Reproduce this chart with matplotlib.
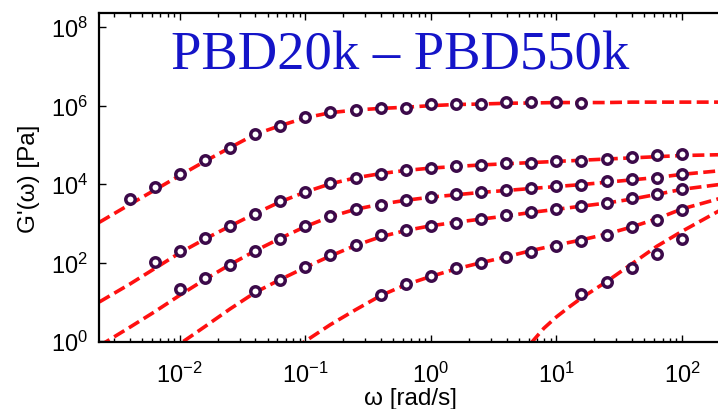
import matplotlib
matplotlib.use("Agg")
import matplotlib.pyplot as plt
from matplotlib.ticker import LogLocator, FixedLocator, LogFormatterSciNotation, NullFormatter, NullLocator

plt.rcParams['font.family'] = ['Liberation Sans', 'DejaVu Sans']
plt.rcParams['mathtext.fontset'] = 'custom'
plt.rcParams['mathtext.rm'] = 'Liberation Sans'
plt.rcParams['mathtext.it'] = 'Liberation Sans:italic'
plt.rcParams['mathtext.bf'] = 'Liberation Sans:bold'
plt.rcParams['axes.unicode_minus'] = False

# ---------------- data ----------------
title_text = "PBD20k \u2013 PBD550k"
x_label = "\u03c9 [rad/s]"
y_label = "G'(\u03c9) [Pa]"
y_ticks = [1, 1e2, 1e4, 1e6, 1e8]

# measured points
w1 = [0.00398, 0.00631, 0.01, 0.0158, 0.0251, 0.0398, 0.0631, 0.1, 0.158, 0.251,
      0.398, 0.631, 1.0, 1.58, 2.51, 3.98, 6.31, 10.0, 15.8]
g1 = [4170, 8710, 17800, 40700, 85100, 195000, 309000, 501000, 676000, 794000,
      851000, 891000, 1.10e6, 1.10e6, 1.10e6, 1.26e6, 1.26e6, 1.26e6, 1.20e6]

w2 = [0.00631, 0.01, 0.0158, 0.0251, 0.0398, 0.0631, 0.1, 0.158, 0.251, 0.398, 0.631,
      1.0, 1.58, 2.51, 3.98, 6.31, 10.0, 15.8, 25.1, 39.8, 63.1, 100.0]
g2 = [102, 200, 417, 851, 1740, 3720, 6460, 11000, 14500, 18200, 23400,
      26300, 29500, 30900, 34700, 35500, 38900, 38900, 43700, 47900, 55000, 57500]

w3 = [0.01, 0.0158, 0.0251, 0.0398, 0.0631, 0.1, 0.158, 0.251, 0.398, 0.631,
      1.0, 1.58, 2.51, 3.98, 6.31, 10.0, 15.8, 25.1, 39.8, 63.1, 100.0]
g3 = [21.9, 41.7, 89.1, 200, 398, 851, 1580, 2400, 2950, 3890,
      4790, 5500, 6170, 6920, 7940, 9120, 9770, 11700, 13500, 14500, 18200]

w4 = [0.0398, 0.0631, 0.1, 0.158, 0.251, 0.398, 0.631, 1.0, 1.58, 2.51, 3.98,
      6.31, 10.0, 15.8, 25.1, 39.8, 63.1, 100.0]
g4 = [18.6, 37.2, 77.6, 158, 282, 501, 676, 851, 1020, 1290, 1620,
      1950, 2340, 2820, 3390, 4370, 5750, 7590]

w5 = [0.398, 0.631, 1.0, 1.58, 2.51, 3.98, 6.31, 10.0, 15.8, 25.1, 39.8, 63.1, 100.0]
g5 = [15.1, 28.8, 45.7, 72.4, 97.7, 141, 191, 269, 355, 513, 794, 1230, 2240]

w6 = [15.8, 25.1, 39.8, 63.1, 100.0]
g6 = [15.5, 32.4, 72.4, 170, 398]

# model curves (dashed)
wl = [0.00229, 0.00398, 0.00631, 0.01, 0.0158, 0.0251, 0.0398, 0.0631, 0.1, 0.158,
      0.251, 0.398, 0.631, 1.0, 1.58, 2.51, 3.98, 6.31, 10.0, 15.8, 25.1, 39.8,
      63.1, 100.0, 197.0]
l1 = [1070, 3020, 7080, 16600, 38000, 85100, 186000, 309000, 490000, 661000,
      776000, 851000, 912000, 1.0e6, 1.07e6, 1.10e6, 1.15e6, 1.17e6, 1.20e6,
      1.20e6, 1.20e6, 1.23e6, 1.23e6, 1.23e6, 1.23e6]
l2 = [10, 28.2, 70.8, 178, 398, 851, 1780, 3550, 6310, 10200, 14500, 18600,
      22400, 25700, 28200, 30900, 33100, 35500, 38000, 40700, 43700, 46800,
      50100, 53700, 56200]
l3 = [0.76, 2.24, 5.62, 14.8, 37.2, 89.1, 200, 417, 832, 1480, 2290, 3090,
      3890, 4680, 5370, 6170, 6920, 7760, 8710, 9770, 11200, 12900, 14800,
      17800, 21900]

wl4 = [0.00631, 0.01, 0.0158, 0.0251, 0.0398, 0.0631, 0.1, 0.158, 0.251, 0.398,
       0.631, 1.0, 1.58, 2.51, 3.98, 6.31, 10.0, 15.8, 25.1, 39.8, 63.1, 100.0, 197.0]
l4 = [0.316, 0.851, 2.34, 6.61, 17.4, 37.2, 75.9, 148, 275, 457, 661, 871,
      1070, 1290, 1550, 1910, 2290, 2750, 3310, 4170, 5500, 7410, 9770]

wl5 = [0.0631, 0.1, 0.158, 0.251, 0.398, 0.631, 1.0, 1.58, 2.51, 3.98, 6.31,
       10.0, 15.8, 25.1, 39.8, 63.1, 100.0, 197.0]
l5 = [0.38, 1.0, 2.63, 6.31, 14.5, 27.5, 44.7, 69.2, 100, 141, 204, 282, 380,
      537, 813, 1320, 2340, 4270]

wl6 = [5.01, 6.46, 7.94, 10.0, 12.6, 15.8, 25.1, 39.8, 63.1, 100.0, 197.0]
l6 = [0.447, 1.0, 2.14, 4.17, 7.41, 12.6, 33.1, 93.3, 263, 631, 2090]

# ---------------- figure ----------------
fig = plt.figure(figsize=(7.18, 4.10), dpi=100)
W, H = 718.0, 410.0
left_px, right_px, top_px, bot_px = 99, 722, 14, 343
ax = fig.add_axes([left_px / W, 1 - bot_px / H, (right_px - left_px) / W, (bot_px - top_px) / H])

line_color = '#ff1010'
mk_color = '#3c0a4a'

for w, g in [(wl, l1), (wl, l2), (wl, l3), (wl4, l4), (wl5, l5), (wl6, l6)]:
    ax.plot(w, g, color=line_color, lw=2.6, dashes=(3.3, 1.5), zorder=2,
            dash_capstyle='butt')

for w, g in [(w1, g1), (w2, g2), (w3, g3), (w4, g4), (w5, g5), (w6, g6)]:
    ax.plot(w, g, ls='none', marker='o', ms=6.8, mew=2.5, mec=mk_color,
            mfc='white', zorder=3)

ax.set_xscale('log')
ax.set_yscale('log')
ax.set_xlim(10 ** -2.643, 10 ** 2.318)
ax.set_ylim(10 ** -0.02, 10 ** 8.36)

ax.yaxis.set_major_locator(FixedLocator(y_ticks))
ax.yaxis.set_major_formatter(LogFormatterSciNotation(base=10))
ax.yaxis.set_minor_locator(NullLocator())
ax.xaxis.set_major_locator(LogLocator(base=10.0, numticks=12))
ax.xaxis.set_minor_locator(LogLocator(base=10.0, subs=range(2, 10), numticks=12))
ax.xaxis.set_minor_formatter(NullFormatter())

ax.tick_params(which='both', direction='in', top=True, right=False,
               labelsize=17, width=1.0, color='black')
ax.tick_params(which='major', length=5)
ax.tick_params(which='minor', length=3)
ax.tick_params(axis='x', which='major', pad=14)
ax.tick_params(axis='y', which='major', pad=8)

for s in ax.spines.values():
    s.set_linewidth(1.6)

ax.set_xlabel(x_label, fontsize=17.5, labelpad=0)
ax.set_ylabel(y_label, fontsize=17.5, labelpad=8)

fig.text(400 / W, 1 - 69 / H, title_text, color='#1414c8', fontsize=39.3,
         family=['Liberation Serif', 'DejaVu Serif'], ha='center', va='baseline')

fig.savefig('out.png', dpi=100)
